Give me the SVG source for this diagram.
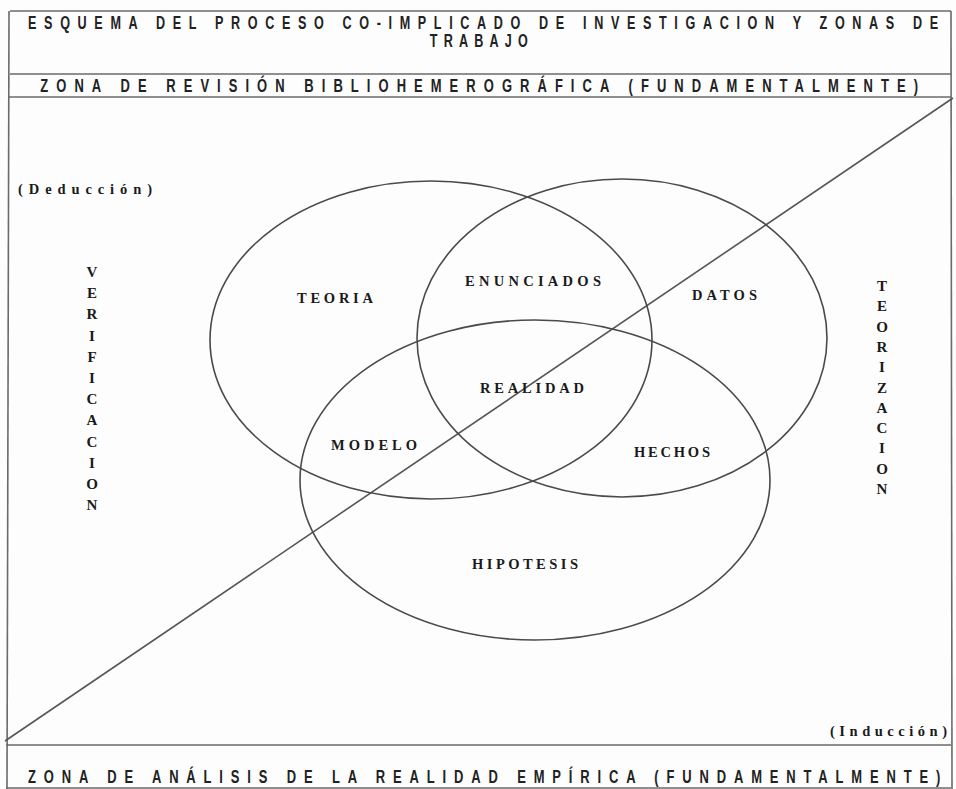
<svg xmlns="http://www.w3.org/2000/svg" width="956" height="789" viewBox="0 0 956 789">
<style>
.frame{fill:none;stroke:#6a6a6a;stroke-width:1.6}
.ell{fill:none;stroke:#4a4a4a;stroke-width:1.6}
.conn{fill:none;stroke:#555;stroke-width:1.6}
.hdr{font-family:"Liberation Sans",Arial,sans-serif;font-weight:bold;fill:#222}
.lbl{font-family:"Liberation Serif","Times New Roman",serif;font-weight:bold;fill:#1a1a1a;font-size:14.5px}
.vert{font-family:"Liberation Serif","Times New Roman",serif;font-weight:bold;fill:#1a1a1a;font-size:15px;text-anchor:middle}
</style>
<rect width="956" height="789" fill="#fdfdfd"/>
<g id="frame">
<line class="frame" x1="10" y1="11" x2="951" y2="11"/>
<line class="frame" x1="10" y1="74" x2="951" y2="74"/>
<line class="frame" x1="9" y1="97" x2="951" y2="97"/>
<line class="frame" x1="6" y1="745" x2="951" y2="745"/>
<line class="frame" x1="6" y1="788" x2="951" y2="788"/>
<line class="frame" x1="9" y1="11" x2="7" y2="789"/>
<line class="frame" x1="951" y1="11" x2="952" y2="789"/>
</g>
<g id="titles" transform="scale(0.72,1)">
<text class="hdr" x="39" y="29" font-size="17.5" textLength="1264" lengthAdjust="spacing">ESQUEMA DEL PROCESO CO-IMPLICADO DE INVESTIGACION Y ZONAS DE</text>
<text class="hdr" x="597" y="47" font-size="17.5" textLength="136" lengthAdjust="spacing">TRABAJO</text>
<text class="hdr" x="56" y="92.5" font-size="18" textLength="1219" lengthAdjust="spacing">ZONA DE REVISIÓN BIBLIOHEMEROGRÁFICA (FUNDAMENTALMENTE)</text>
<text class="hdr" x="39" y="783" font-size="18" textLength="1267" lengthAdjust="spacing">ZONA DE ANÁLISIS DE LA REALIDAD EMPÍRICA (FUNDAMENTALMENTE)</text>
</g>
<g id="connectors">
<line class="conn" x1="5" y1="741" x2="953" y2="98"/>
</g>
<g id="node-teoria">
<ellipse class="ell" cx="431" cy="340" rx="221" ry="159"/>
<text class="lbl" x="297" y="303" textLength="76" lengthAdjust="spacing">TEORIA</text>
</g>
<g id="node-datos">
<ellipse class="ell" cx="622" cy="338" rx="205" ry="159"/>
<text class="lbl" x="692" y="300" textLength="65" lengthAdjust="spacing">DATOS</text>
</g>
<g id="node-hipotesis">
<ellipse class="ell" cx="535" cy="480" rx="235" ry="160"/>
<text class="lbl" x="472" y="569" textLength="106" lengthAdjust="spacing">HIPOTESIS</text>
</g>
<g id="node-enunciados">
<text class="lbl" x="465" y="286" textLength="136" lengthAdjust="spacing">ENUNCIADOS</text>
</g>
<g id="node-realidad">
<text class="lbl" x="480" y="393" textLength="104" lengthAdjust="spacing">REALIDAD</text>
</g>
<g id="node-modelo">
<text class="lbl" x="331" y="450" textLength="86" lengthAdjust="spacing">MODELO</text>
</g>
<g id="node-hechos">
<text class="lbl" x="634" y="457" textLength="76" lengthAdjust="spacing">HECHOS</text>
</g>
<g id="node-deduccion">
<text class="lbl" x="18" y="194" font-size="15" textLength="134" lengthAdjust="spacing">(Deducción)</text>
</g>
<g id="node-induccion">
<text class="lbl" x="830" y="736" font-size="15" textLength="117" lengthAdjust="spacing">(Inducción)</text>
</g>
<g id="node-verificacion">
<text class="vert" x="92" y="277">V</text>
<text class="vert" x="92" y="298">E</text>
<text class="vert" x="92" y="319">R</text>
<text class="vert" x="92" y="341">I</text>
<text class="vert" x="92" y="362">F</text>
<text class="vert" x="92" y="383">I</text>
<text class="vert" x="92" y="404">C</text>
<text class="vert" x="92" y="425">A</text>
<text class="vert" x="92" y="447">C</text>
<text class="vert" x="92" y="468">I</text>
<text class="vert" x="92" y="489">O</text>
<text class="vert" x="92" y="510">N</text>
</g>
<g id="node-teorizacion">
<text class="vert" x="882" y="291">T</text>
<text class="vert" x="882" y="311">E</text>
<text class="vert" x="882" y="332">O</text>
<text class="vert" x="882" y="352">R</text>
<text class="vert" x="882" y="372">I</text>
<text class="vert" x="882" y="393">Z</text>
<text class="vert" x="882" y="413">A</text>
<text class="vert" x="882" y="433">C</text>
<text class="vert" x="882" y="453">I</text>
<text class="vert" x="882" y="474">O</text>
<text class="vert" x="882" y="494">N</text>
</g>
</svg>
